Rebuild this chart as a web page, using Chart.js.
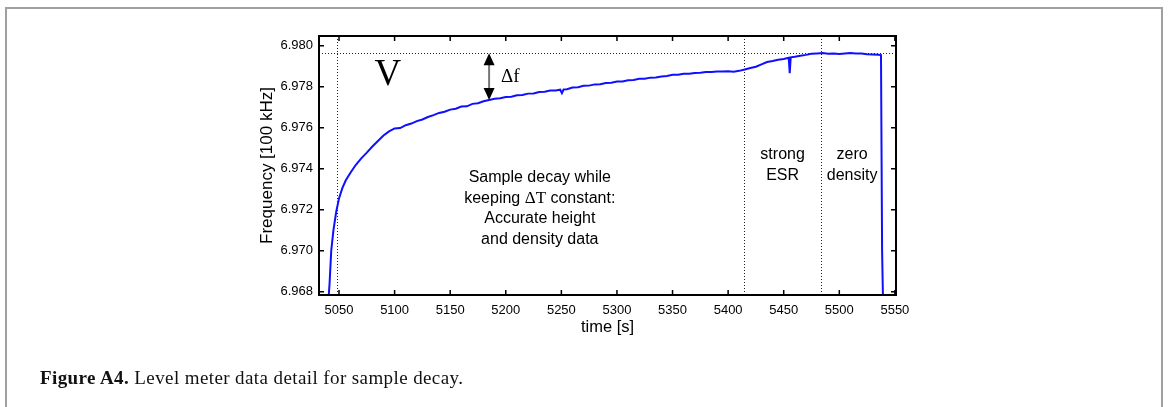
<!DOCTYPE html>
<html>
<head>
    <meta charset="UTF-8">
    <script src="https://cdn.jsdelivr.net/npm/chart.js"></script>
    <style>
        body { margin: 0; background: #fff; }
        #frame { position: absolute; left: 5px; top: 7px; width: 1154px; height: 420px; border: 2px solid #a0a0a0; }
        #caption { position: absolute; left: 40px; top: 367px; font-family: "Liberation Serif", serif; font-size: 19px; letter-spacing: 0.4px; color: #111; }
        #levelChart { position: absolute; left: 0; top: 0; }
    </style>
</head>
<body>
<canvas id="levelChart" width="1168" height="407"></canvas>
<div id="frame"></div>
<div id="caption"><b>Figure A4.</b> Level meter data detail for sample decay.</div>

<script>
    // time [s] and level meter frequency [100 kHz]
    const timeS = [5040.0, 5041.5, 5043.0, 5045.0, 5047.5, 5050, 5053, 5056, 5060, 5065,
        5070, 5075, 5080, 5085, 5090, 5095, 5100, 5105, 5110, 5115,
        5120, 5125, 5130, 5135, 5140, 5145, 5150, 5155, 5160, 5165,
        5170, 5175, 5180, 5185, 5190, 5195, 5200, 5205, 5210, 5215,
        5220, 5225, 5230, 5235, 5240, 5245, 5249, 5250.5, 5252, 5255,
        5260, 5265, 5270, 5275, 5280, 5285, 5290, 5295, 5300, 5305,
        5310, 5315, 5320, 5325, 5330, 5335, 5340, 5345, 5350, 5355,
        5360, 5365, 5370, 5375, 5380, 5385, 5390, 5395, 5400, 5405,
        5410, 5415, 5420, 5425, 5430, 5435, 5440, 5445, 5450, 5454.5,
        5455.4, 5456.3, 5460, 5465, 5470, 5475, 5480, 5485, 5490, 5495,
        5500, 5505, 5510, 5515, 5520, 5525, 5530, 5535, 5537.5, 5538.5, 5539.5];
    const freq = [6.9672, 6.9684, 6.9700, 6.9710, 6.9719, 6.97255, 6.97305, 6.97342, 6.97378, 6.97418,
        6.9745, 6.97478, 6.97508, 6.97535, 6.97562, 6.97582, 6.97596, 6.97598, 6.97612, 6.9762,
        6.97632, 6.9764, 6.97652, 6.97661, 6.97672, 6.97678, 6.97688, 6.97692, 6.97703, 6.97704,
        6.97716, 6.97719, 6.97729, 6.97735, 6.97741, 6.97743, 6.97749, 6.97751, 6.97758, 6.97759,
        6.97766, 6.97767, 6.97774, 6.97775, 6.97781, 6.97781, 6.97785, 6.97768, 6.97786, 6.97787,
        6.97796, 6.97797, 6.97804, 6.97805, 6.97811, 6.97812, 6.97818, 6.97819, 6.97825, 6.97825,
        6.97831, 6.97832, 6.97838, 6.97839, 6.97844, 6.97845, 6.9785, 6.97852, 6.97858, 6.97858,
        6.97863, 6.97863, 6.97867, 6.97868, 6.97871, 6.97871, 6.97874, 6.97874, 6.97875, 6.97873,
        6.97877, 6.97884, 6.97891, 6.97897, 6.97909, 6.9792, 6.97925, 6.97931, 6.97935, 6.97941,
        6.97866, 6.97943, 6.97946, 6.97951, 6.97955, 6.9796, 6.97962, 6.97964, 6.97961, 6.97962,
        6.97959, 6.97962, 6.97964, 6.97962, 6.97962, 6.97958, 6.97957, 6.97955, 6.97954, 6.9700, 6.9670];

    const xTickValues = [5050, 5100, 5150, 5200, 5250, 5300, 5350, 5400, 5450, 5500, 5550];
    const yTickValues = [6.968, 6.970, 6.972, 6.974, 6.976, 6.978, 6.980];

    // annotation anchors in data units
    const markerTimes = [5048.2, 5414, 5483.6];
    const plateauLevel = 6.97963;
    const arrowTime = 5185;
    const arrowSpan = [6.97963, 6.97735];
    const labels = [
        { lines: ['Sample decay while', 'keeping \u0394T constant:', 'Accurate height', 'and density data'], t: 5230.6, v: 6.97355 },
        { lines: ['strong', 'ESR'], t: 5449, v: 6.97467 },
        { lines: ['zero', 'density'], t: 5511.5, v: 6.97467 }
    ];

    const sans = '"Liberation Sans", Arial, sans-serif';
    const serif = '"Liberation Serif", "Times New Roman", serif';

    const overlay = {
        id: 'overlay',
        beforeDatasetsDraw(chart) {
            const {ctx, chartArea: a, scales: {x, y}} = chart;
            ctx.save();
            ctx.strokeStyle = '#222';
            ctx.lineWidth = 1;
            ctx.setLineDash([1, 2]);
            markerTimes.forEach(t => {
                const px = Math.round(x.getPixelForValue(t)) + 0.5;
                ctx.beginPath(); ctx.moveTo(px, a.top); ctx.lineTo(px, a.bottom); ctx.stroke();
            });
            const py = Math.round(y.getPixelForValue(plateauLevel)) + 0.5;
            ctx.beginPath(); ctx.moveTo(a.left, py); ctx.lineTo(a.right, py); ctx.stroke();
            ctx.restore();
        },
        afterDatasetsDraw(chart) {
            const {ctx, chartArea: a, scales: {x, y}} = chart;
            ctx.save();
            // box and inward ticks
            ctx.strokeStyle = '#000';
            ctx.lineWidth = 2;
            ctx.strokeRect(a.left, a.top, a.right - a.left, a.bottom - a.top);
            ctx.lineWidth = 1.5;
            const tl = 5;
            xTickValues.forEach(v => {
                const px = x.getPixelForValue(v);
                ctx.beginPath();
                ctx.moveTo(px, a.bottom); ctx.lineTo(px, a.bottom - tl);
                ctx.moveTo(px, a.top); ctx.lineTo(px, a.top + tl);
                ctx.stroke();
            });
            yTickValues.forEach(v => {
                const py = y.getPixelForValue(v);
                ctx.beginPath();
                ctx.moveTo(a.left, py); ctx.lineTo(a.left + tl, py);
                ctx.moveTo(a.right, py); ctx.lineTo(a.right - tl, py);
                ctx.stroke();
            });

            // text blocks
            ctx.fillStyle = '#000';
            ctx.textAlign = 'center';
            ctx.textBaseline = 'middle';
            labels.forEach(l => {
                const cx = x.getPixelForValue(l.t);
                let cy = y.getPixelForValue(l.v);
                l.lines.forEach(line => {
                    drawMixed(ctx, line, cx, cy);
                    cy += 20.5;
                });
            });

            ctx.font = '37px ' + serif;
            ctx.textBaseline = 'alphabetic';
            ctx.fillText('V', x.getPixelForValue(5094), y.getPixelForValue(6.97808));
            ctx.textBaseline = 'middle';

            // delta f arrow
            const ax = x.getPixelForValue(arrowTime);
            const y0 = y.getPixelForValue(arrowSpan[0]);
            const y1 = y.getPixelForValue(arrowSpan[1]);
            ctx.strokeStyle = '#777';
            ctx.lineWidth = 2;
            ctx.beginPath(); ctx.moveTo(ax, y0 + 8); ctx.lineTo(ax, y1 - 8); ctx.stroke();
            ctx.fillStyle = '#000';
            ctx.beginPath(); ctx.moveTo(ax, y0); ctx.lineTo(ax - 5.5, y0 + 12); ctx.lineTo(ax + 5.5, y0 + 12); ctx.closePath(); ctx.fill();
            ctx.beginPath(); ctx.moveTo(ax, y1); ctx.lineTo(ax - 5.5, y1 - 12); ctx.lineTo(ax + 5.5, y1 - 12); ctx.closePath(); ctx.fill();
            ctx.font = '19px ' + serif;
            ctx.textAlign = 'left';
            ctx.fillText('\u0394f', ax + 12, (y0 + y1) / 2);
            ctx.restore();
        }
    };

    // the greek letter in the annotation is set in a serif face
    function drawMixed(ctx, line, cx, cy) {
        const parts = line.split(/(\u0394T)/).filter(s => s);
        const fonts = parts.map(p => p === '\u0394T' ? '17px ' + serif : '16px ' + sans);
        let w = 0;
        parts.forEach((p, i) => { ctx.font = fonts[i]; w += ctx.measureText(p).width; });
        let px = cx - w / 2;
        ctx.textAlign = 'left';
        parts.forEach((p, i) => {
            ctx.font = fonts[i];
            ctx.fillText(p, px, cy);
            px += ctx.measureText(p).width;
        });
        ctx.textAlign = 'center';
    }

    new Chart(document.getElementById('levelChart'), {
        type: 'line',
        data: {
            datasets: [{
                data: timeS.map((t, i) => ({ x: t, y: freq[i] })),
                borderColor: '#0f0fff',
                borderWidth: 2,
                pointRadius: 0,
                tension: 0,
                clip: 0,
                fill: false
            }]
        },
        options: {
            responsive: false,
            animation: false,
            events: [],
            layout: { padding: { left: 253, top: 36, right: 272, bottom: 66 } },
            plugins: { legend: { display: false }, tooltip: { enabled: false } },
            scales: {
                x: {
                    type: 'linear',
                    min: 5032,
                    max: 5551,
                    afterBuildTicks: s => { s.ticks = xTickValues.map(v => ({ value: v })); },
                    afterFit: s => { s.height = 46; },
                    grid: { drawOnChartArea: false, drawTicks: false },
                    border: { display: false },
                    ticks: { color: '#000', padding: 8, maxRotation: 0, font: { family: sans, size: 13 }, callback: v => String(v) },
                    title: { display: true, text: 'time [s]', color: '#000', font: { family: sans, size: 16.5 }, padding: { top: 0, bottom: 4 } }
                },
                y: {
                    type: 'linear',
                    min: 6.96784,
                    max: 6.98047,
                    afterBuildTicks: s => { s.ticks = yTickValues.map(v => ({ value: v })); },
                    afterFit: s => { s.width = 66; },
                    grid: { drawOnChartArea: false, drawTicks: false },
                    border: { display: false },
                    ticks: { color: '#000', padding: 6, font: { family: sans, size: 13 }, callback: v => v.toFixed(3) },
                    title: { display: true, text: 'Frequency [100 kHz]', color: '#000', font: { family: sans, size: 17 }, padding: { top: 4, bottom: 0 } }
                }
            }
        },
        plugins: [overlay]
    });
</script>
</body>
</html>
